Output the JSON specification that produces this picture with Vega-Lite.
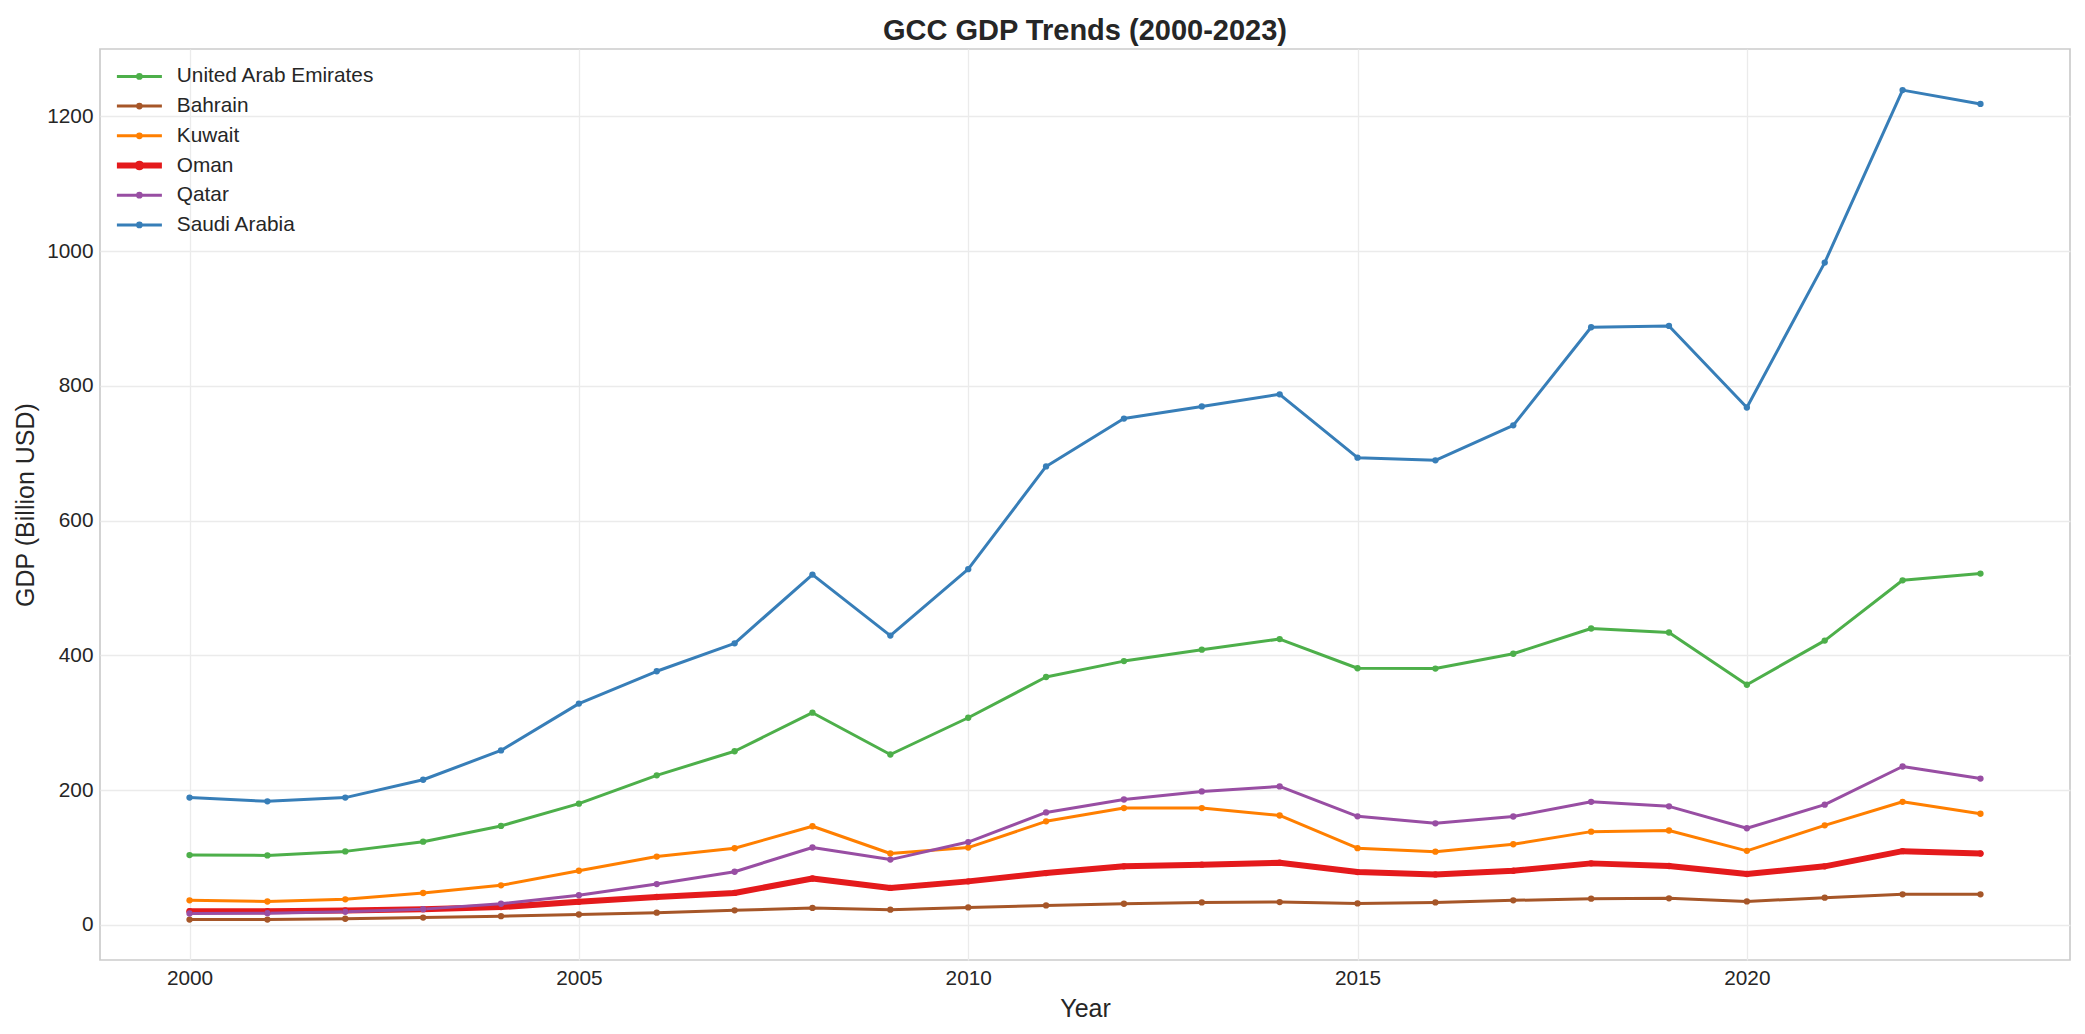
{
  "$schema": "https://vega.github.io/schema/vega-lite/v6.json",
  "width": 1970,
  "height": 911,
  "autosize": {"type": "none"},
  "padding": {"left": 100, "top": 49, "right": 15, "bottom": 74},
  "background": "white",
  "title": {
    "text": "GCC GDP Trends (2000-2023)",
    "font": "Liberation Sans",
    "fontSize": 29,
    "fontWeight": "bold",
    "color": "#262626",
    "anchor": "middle",
    "baseline": "alphabetic",
    "offset": 6,
    "dy": 26
  },
  "config": {
    "view": {"stroke": "#cccccc", "strokeWidth": 1.7},
    "axis": {
      "labelFont": "Liberation Sans",
      "labelFontSize": 20.8,
      "labelColor": "#262626",
      "titleFont": "Liberation Sans",
      "titleFontSize": 25,
      "titleFontWeight": "normal",
      "titleColor": "#262626",
      "ticks": false,
      "domain": false,
      "gridColor": "#ebebeb",
      "gridWidth": 1.3
    }
  },
  "data": {
    "values": [
      {"country": "United Arab Emirates", "year": 2000, "gdp": 103.7},
      {"country": "United Arab Emirates", "year": 2001, "gdp": 103.2},
      {"country": "United Arab Emirates", "year": 2002, "gdp": 109.2},
      {"country": "United Arab Emirates", "year": 2003, "gdp": 123.6},
      {"country": "United Arab Emirates", "year": 2004, "gdp": 147.0},
      {"country": "United Arab Emirates", "year": 2005, "gdp": 180.0},
      {"country": "United Arab Emirates", "year": 2006, "gdp": 222.0},
      {"country": "United Arab Emirates", "year": 2007, "gdp": 257.8},
      {"country": "United Arab Emirates", "year": 2008, "gdp": 315.0},
      {"country": "United Arab Emirates", "year": 2009, "gdp": 253.0},
      {"country": "United Arab Emirates", "year": 2010, "gdp": 307.5},
      {"country": "United Arab Emirates", "year": 2011, "gdp": 368.0},
      {"country": "United Arab Emirates", "year": 2012, "gdp": 391.6},
      {"country": "United Arab Emirates", "year": 2013, "gdp": 408.5},
      {"country": "United Arab Emirates", "year": 2014, "gdp": 424.3},
      {"country": "United Arab Emirates", "year": 2015, "gdp": 381.0},
      {"country": "United Arab Emirates", "year": 2016, "gdp": 380.5},
      {"country": "United Arab Emirates", "year": 2017, "gdp": 402.5},
      {"country": "United Arab Emirates", "year": 2018, "gdp": 440.0},
      {"country": "United Arab Emirates", "year": 2019, "gdp": 434.0},
      {"country": "United Arab Emirates", "year": 2020, "gdp": 356.5},
      {"country": "United Arab Emirates", "year": 2021, "gdp": 422.0},
      {"country": "United Arab Emirates", "year": 2022, "gdp": 511.5},
      {"country": "United Arab Emirates", "year": 2023, "gdp": 521.5},
      {"country": "Bahrain", "year": 2000, "gdp": 8.0},
      {"country": "Bahrain", "year": 2001, "gdp": 8.0},
      {"country": "Bahrain", "year": 2002, "gdp": 9.2},
      {"country": "Bahrain", "year": 2003, "gdp": 11.0},
      {"country": "Bahrain", "year": 2004, "gdp": 13.0},
      {"country": "Bahrain", "year": 2005, "gdp": 15.5},
      {"country": "Bahrain", "year": 2006, "gdp": 18.3},
      {"country": "Bahrain", "year": 2007, "gdp": 21.7},
      {"country": "Bahrain", "year": 2008, "gdp": 25.3},
      {"country": "Bahrain", "year": 2009, "gdp": 22.7},
      {"country": "Bahrain", "year": 2010, "gdp": 26.0},
      {"country": "Bahrain", "year": 2011, "gdp": 29.0},
      {"country": "Bahrain", "year": 2012, "gdp": 31.5},
      {"country": "Bahrain", "year": 2013, "gdp": 33.5},
      {"country": "Bahrain", "year": 2014, "gdp": 34.0},
      {"country": "Bahrain", "year": 2015, "gdp": 32.0},
      {"country": "Bahrain", "year": 2016, "gdp": 33.5},
      {"country": "Bahrain", "year": 2017, "gdp": 36.5},
      {"country": "Bahrain", "year": 2018, "gdp": 39.0},
      {"country": "Bahrain", "year": 2019, "gdp": 39.5},
      {"country": "Bahrain", "year": 2020, "gdp": 35.0},
      {"country": "Bahrain", "year": 2021, "gdp": 40.5},
      {"country": "Bahrain", "year": 2022, "gdp": 45.5},
      {"country": "Bahrain", "year": 2023, "gdp": 45.5},
      {"country": "Kuwait", "year": 2000, "gdp": 36.5},
      {"country": "Kuwait", "year": 2001, "gdp": 34.8},
      {"country": "Kuwait", "year": 2002, "gdp": 38.0},
      {"country": "Kuwait", "year": 2003, "gdp": 47.4},
      {"country": "Kuwait", "year": 2004, "gdp": 58.8},
      {"country": "Kuwait", "year": 2005, "gdp": 80.5},
      {"country": "Kuwait", "year": 2006, "gdp": 101.5},
      {"country": "Kuwait", "year": 2007, "gdp": 113.8},
      {"country": "Kuwait", "year": 2008, "gdp": 146.5},
      {"country": "Kuwait", "year": 2009, "gdp": 106.0},
      {"country": "Kuwait", "year": 2010, "gdp": 114.8},
      {"country": "Kuwait", "year": 2011, "gdp": 153.8},
      {"country": "Kuwait", "year": 2012, "gdp": 173.5},
      {"country": "Kuwait", "year": 2013, "gdp": 173.5},
      {"country": "Kuwait", "year": 2014, "gdp": 162.5},
      {"country": "Kuwait", "year": 2015, "gdp": 114.0},
      {"country": "Kuwait", "year": 2016, "gdp": 108.8},
      {"country": "Kuwait", "year": 2017, "gdp": 119.8},
      {"country": "Kuwait", "year": 2018, "gdp": 138.5},
      {"country": "Kuwait", "year": 2019, "gdp": 140.2},
      {"country": "Kuwait", "year": 2020, "gdp": 110.0},
      {"country": "Kuwait", "year": 2021, "gdp": 147.8},
      {"country": "Kuwait", "year": 2022, "gdp": 182.8},
      {"country": "Kuwait", "year": 2023, "gdp": 165.0},
      {"country": "Oman", "year": 2000, "gdp": 20.5},
      {"country": "Oman", "year": 2001, "gdp": 20.5},
      {"country": "Oman", "year": 2002, "gdp": 21.5},
      {"country": "Oman", "year": 2003, "gdp": 23.5},
      {"country": "Oman", "year": 2004, "gdp": 26.5},
      {"country": "Oman", "year": 2005, "gdp": 34.5},
      {"country": "Oman", "year": 2006, "gdp": 41.5},
      {"country": "Oman", "year": 2007, "gdp": 47.5},
      {"country": "Oman", "year": 2008, "gdp": 69.0},
      {"country": "Oman", "year": 2009, "gdp": 55.0},
      {"country": "Oman", "year": 2010, "gdp": 64.7},
      {"country": "Oman", "year": 2011, "gdp": 77.0},
      {"country": "Oman", "year": 2012, "gdp": 87.0},
      {"country": "Oman", "year": 2013, "gdp": 89.5},
      {"country": "Oman", "year": 2014, "gdp": 92.3},
      {"country": "Oman", "year": 2015, "gdp": 78.5},
      {"country": "Oman", "year": 2016, "gdp": 75.0},
      {"country": "Oman", "year": 2017, "gdp": 80.5},
      {"country": "Oman", "year": 2018, "gdp": 91.4},
      {"country": "Oman", "year": 2019, "gdp": 87.5},
      {"country": "Oman", "year": 2020, "gdp": 75.6},
      {"country": "Oman", "year": 2021, "gdp": 87.0},
      {"country": "Oman", "year": 2022, "gdp": 109.5},
      {"country": "Oman", "year": 2023, "gdp": 106.0},
      {"country": "Qatar", "year": 2000, "gdp": 17.0},
      {"country": "Qatar", "year": 2001, "gdp": 17.5},
      {"country": "Qatar", "year": 2002, "gdp": 19.5},
      {"country": "Qatar", "year": 2003, "gdp": 23.5},
      {"country": "Qatar", "year": 2004, "gdp": 31.5},
      {"country": "Qatar", "year": 2005, "gdp": 44.2},
      {"country": "Qatar", "year": 2006, "gdp": 60.7},
      {"country": "Qatar", "year": 2007, "gdp": 79.0},
      {"country": "Qatar", "year": 2008, "gdp": 115.0},
      {"country": "Qatar", "year": 2009, "gdp": 97.0},
      {"country": "Qatar", "year": 2010, "gdp": 123.0},
      {"country": "Qatar", "year": 2011, "gdp": 167.0},
      {"country": "Qatar", "year": 2012, "gdp": 186.2},
      {"country": "Qatar", "year": 2013, "gdp": 198.2},
      {"country": "Qatar", "year": 2014, "gdp": 205.6},
      {"country": "Qatar", "year": 2015, "gdp": 161.2},
      {"country": "Qatar", "year": 2016, "gdp": 150.8},
      {"country": "Qatar", "year": 2017, "gdp": 161.0},
      {"country": "Qatar", "year": 2018, "gdp": 182.8},
      {"country": "Qatar", "year": 2019, "gdp": 176.0},
      {"country": "Qatar", "year": 2020, "gdp": 143.5},
      {"country": "Qatar", "year": 2021, "gdp": 178.5},
      {"country": "Qatar", "year": 2022, "gdp": 235.2},
      {"country": "Qatar", "year": 2023, "gdp": 217.3},
      {"country": "Saudi Arabia", "year": 2000, "gdp": 189.0},
      {"country": "Saudi Arabia", "year": 2001, "gdp": 183.5},
      {"country": "Saudi Arabia", "year": 2002, "gdp": 189.0},
      {"country": "Saudi Arabia", "year": 2003, "gdp": 215.5},
      {"country": "Saudi Arabia", "year": 2004, "gdp": 259.0},
      {"country": "Saudi Arabia", "year": 2005, "gdp": 328.5},
      {"country": "Saudi Arabia", "year": 2006, "gdp": 376.5},
      {"country": "Saudi Arabia", "year": 2007, "gdp": 418.0},
      {"country": "Saudi Arabia", "year": 2008, "gdp": 520.0},
      {"country": "Saudi Arabia", "year": 2009, "gdp": 429.5},
      {"country": "Saudi Arabia", "year": 2010, "gdp": 528.0},
      {"country": "Saudi Arabia", "year": 2011, "gdp": 680.5},
      {"country": "Saudi Arabia", "year": 2012, "gdp": 751.5},
      {"country": "Saudi Arabia", "year": 2013, "gdp": 769.5},
      {"country": "Saudi Arabia", "year": 2014, "gdp": 787.5},
      {"country": "Saudi Arabia", "year": 2015, "gdp": 693.5},
      {"country": "Saudi Arabia", "year": 2016, "gdp": 689.5},
      {"country": "Saudi Arabia", "year": 2017, "gdp": 741.5},
      {"country": "Saudi Arabia", "year": 2018, "gdp": 887.0},
      {"country": "Saudi Arabia", "year": 2019, "gdp": 889.0},
      {"country": "Saudi Arabia", "year": 2020, "gdp": 768.0},
      {"country": "Saudi Arabia", "year": 2021, "gdp": 983.0},
      {"country": "Saudi Arabia", "year": 2022, "gdp": 1239.0},
      {"country": "Saudi Arabia", "year": 2023, "gdp": 1218.5}
    ]
  },
  "encoding": {
    "x": {
      "field": "year",
      "type": "quantitative",
      "scale": {"domain": [1998.85, 2024.15], "nice": false, "zero": false},
      "axis": {
        "values": [2000, 2005, 2010, 2015, 2020],
        "format": "d",
        "title": "Year",
        "labelPadding": 8,
        "titlePadding": 9
      }
    },
    "y": {
      "field": "gdp",
      "type": "quantitative",
      "scale": {"domain": [-52, 1300], "nice": false, "zero": false},
      "axis": {
        "values": [0, 200, 400, 600, 800, 1000, 1200],
        "format": "d",
        "title": "GDP (Billion USD)",
        "labelPadding": 7,
        "titlePadding": 8
      }
    },
    "color": {
      "field": "country",
      "type": "nominal",
      "scale": {
        "domain": ["United Arab Emirates", "Bahrain", "Kuwait", "Oman", "Qatar", "Saudi Arabia"],
        "range": ["#4daf4a", "#a65628", "#ff7f00", "#e41a1c", "#984ea3", "#377eb8"]
      },
      "legend": {
        "title": null,
        "orient": "none",
        "legendX": 29,
        "legendY": 17,
        "padding": 0,
        "gridAlign": "all",
        "symbolType": "M-2.25,0H2.25M-0.185,0A0.185,0.185 0 1 1 0.185,0A0.185,0.185 0 1 1 -0.185,0Z",
        "symbolSize": 400,
        "symbolStrokeWidth": 3,
        "labelFont": "Liberation Sans",
        "labelFontSize": 20.8,
        "labelColor": "#262626",
        "labelLimit": 0,
        "labelOffset": 27,
        "rowPadding": 0.7,
        "encode": {
          "symbols": {
            "update": {
              "fill": {"scale": "color", "field": "value"},
              "stroke": {"scale": "color", "field": "value"},
              "strokeWidth": {"signal": "datum.value === 'Oman' ? 6 : 3"},
              "opacity": {"value": 1},
              "fillOpacity": {"value": 1}
            }
          }
        }
      }
    }
  },
  "layer": [
    {
      "mark": {"type": "line", "strokeJoin": "round", "strokeCap": "round"},
      "encoding": {
        "strokeWidth": {
          "condition": {"test": "datum.country === 'Oman'", "value": 6},
          "value": 3
        }
      }
    },
    {
      "mark": {"type": "point", "filled": true, "opacity": 1, "size": 40}
    }
  ]
}
